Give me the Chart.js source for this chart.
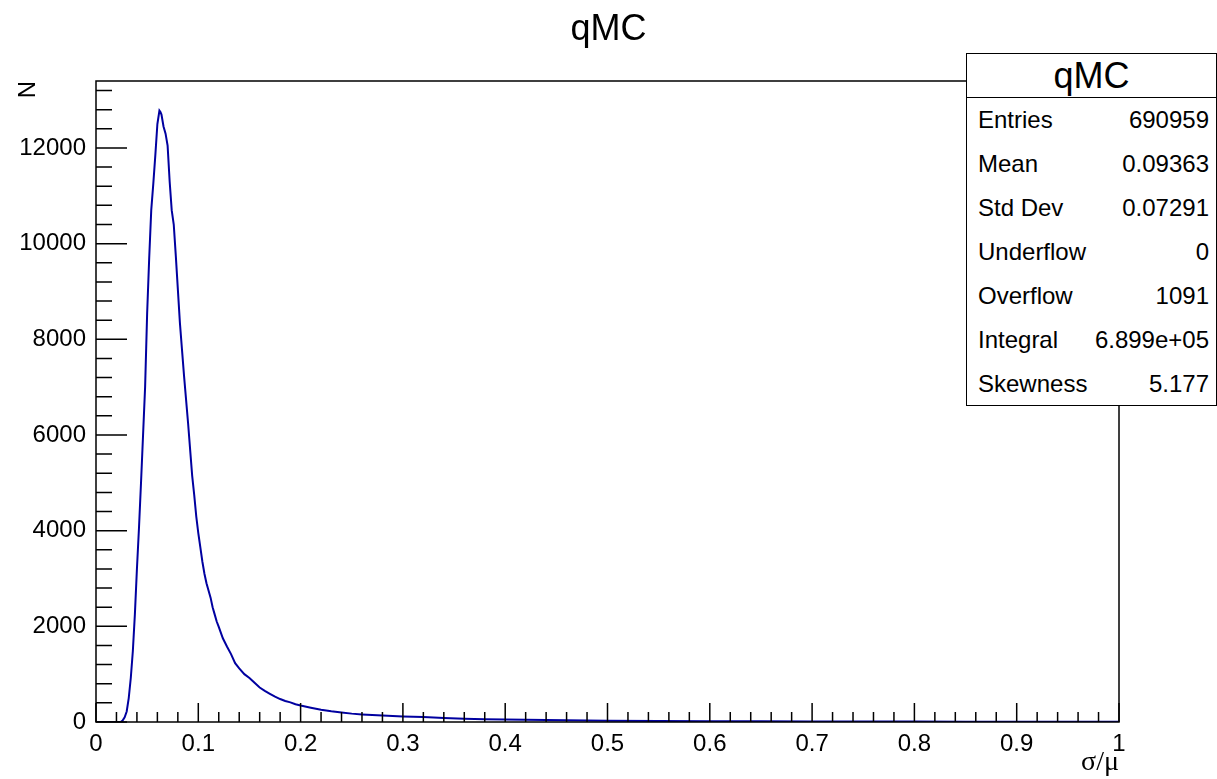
<!DOCTYPE html>
<html>
<head>
<meta charset="utf-8">
<title>qMC</title>
<script src="https://cdn.jsdelivr.net/npm/chart.js@4.4.1/dist/chart.umd.min.js"></script>
<style>
  body { margin: 0; background: #fff; }
  #wrap { position: relative; width: 1217px; height: 779px; }
  #stats {
    position: absolute; left: 966px; top: 53px; width: 251px; height: 353px;
    box-sizing: border-box; border: 1.5px solid #000; background: #fff;
    font-family: "Liberation Sans", Arial, sans-serif; color: #000;
  }
  #stats .head {
    height: 43px; line-height: 43px; text-align: center; font-size: 36px;
    border-bottom: 1.5px solid #000;
  }
  #stats .row {
    height: 44px; display: flex; justify-content: space-between; align-items: center;
    font-size: 24px; padding: 0 7px 0 11px;
  }
</style>
</head>
<body>
<div id="wrap">
  <canvas id="histo" width="1217" height="779"></canvas>
  <div id="stats"></div>
</div>
<script>
// bin centres (sigma/mu) and entries
const binX = [
  0.000, 0.020, 0.024, 0.026, 0.028, 0.030, 0.032, 0.034, 0.036, 0.038,
  0.040, 0.042, 0.044, 0.046, 0.048, 0.050, 0.052, 0.054, 0.056, 0.058,
  0.060, 0.062, 0.063, 0.064, 0.066, 0.068, 0.070, 0.072, 0.074, 0.076,
  0.078, 0.080, 0.082, 0.084, 0.086, 0.088, 0.090, 0.092, 0.094, 0.096,
  0.098, 0.100, 0.102, 0.104, 0.106, 0.108, 0.110, 0.112, 0.114, 0.116,
  0.118, 0.120, 0.124, 0.128, 0.132, 0.136, 0.140, 0.145, 0.150, 0.155,
  0.160, 0.165, 0.170, 0.175, 0.180, 0.185, 0.190, 0.195, 0.200, 0.210,
  0.220, 0.230, 0.240, 0.250, 0.260, 0.270, 0.280, 0.290, 0.300, 0.320,
  0.340, 0.360, 0.380, 0.400, 0.420, 0.440, 0.460, 0.480, 0.500, 0.550,
  0.600, 0.650, 0.700, 0.750, 0.800, 0.850, 0.900, 0.950, 1.000
];
const entries = [
  0, 0, 0, 30, 100, 220, 500, 920, 1480, 2250,
  3200, 4050, 5000, 6000, 7000, 8550, 9700, 10700, 11250, 11850,
  12500, 12780, 12750, 12700, 12450, 12300, 12050, 11300, 10700, 10400,
  9750, 9050, 8350, 7800, 7250, 6750, 6250, 5700, 5150, 4750,
  4300, 3950, 3650, 3350, 3100, 2900, 2750, 2600, 2400, 2250,
  2100, 1990, 1750, 1580, 1420, 1230, 1120, 1000, 920, 820,
  720, 650, 590, 530, 480, 440, 410, 370, 345, 300,
  255, 225, 200, 175, 158, 145, 135, 125, 115, 103,
  82, 68, 60, 50, 45, 40, 36, 32, 28, 22,
  18, 14, 11, 9, 8, 7, 6, 5, 4
];

const xTicks = [0, 0.1, 0.2, 0.3, 0.4, 0.5, 0.6, 0.7, 0.8, 0.9, 1];
const yTicks = [0, 2000, 4000, 6000, 8000, 10000, 12000];

const statNames = ["Entries", "Mean", "Std Dev", "Underflow", "Overflow", "Integral", "Skewness"];
const statValues = ["690959", "0.09363", "0.07291", "0", "1091", "6.899e+05", "5.177"];

const yMax = 13400;
const fontSans = "'Liberation Sans', Arial, sans-serif";

// stats box
const stats = document.getElementById("stats");
let html = '<div class="head">qMC</div>';
statNames.forEach((n, i) => {
  html += `<div class="row"><span>${n}</span><span>${statValues[i]}</span></div>`;
});
stats.innerHTML = html;

// ROOT style frame with ticks drawn inside
const rootFrame = {
  id: "rootFrame",
  afterDraw(chart) {
    const { ctx, chartArea: a, scales: { x, y } } = chart;
    ctx.save();
    ctx.strokeStyle = "#000";
    ctx.lineWidth = 1.5;
    ctx.strokeRect(a.left, a.top, a.right - a.left, a.bottom - a.top);
    ctx.beginPath();
    for (let v = 0; v <= yMax; v += 400) {
      const p = y.getPixelForValue(v);
      const len = v % 2000 === 0 ? 31 : 16;
      ctx.moveTo(a.left, p);
      ctx.lineTo(a.left + len, p);
    }
    for (let i = 0; i <= 50; i++) {
      const p = x.getPixelForValue(i * 0.02);
      const len = i % 5 === 0 ? 19 : 10;
      ctx.moveTo(p, a.bottom);
      ctx.lineTo(p, a.bottom - len);
    }
    ctx.stroke();
    ctx.restore();
  }
};

const ctx = document.getElementById("histo").getContext("2d");

new Chart(ctx, {
  type: "line",
  data: {
    datasets: [{
      label: "qMC",
      data: binX.map((v, i) => ({ x: v, y: entries[i] })),
      borderColor: "#0000a0",
      borderWidth: 2,
      pointRadius: 0,
      tension: 0,
      fill: false
    }]
  },
  options: {
    responsive: false,
    animation: false,
    layout: { padding: 0 },
    plugins: {
      legend: { display: false },
      tooltip: { enabled: false },
      title: {
        display: true,
        text: "qMC",
        color: "#000",
        font: { family: fontSans, size: 36, weight: "normal" },
        padding: { top: 8, bottom: 29.8 }
      }
    },
    scales: {
      x: {
        type: "linear",
        min: 0,
        max: 1,
        afterFit(scale) { scale.height = 57; },
        afterBuildTicks(scale) { scale.ticks = xTicks.map(v => ({ value: v })); },
        grid: { display: false, drawTicks: false },
        border: { display: false },
        ticks: {
          autoSkip: false,
          maxRotation: 0,
          padding: 8,
          color: "#000",
          font: { family: fontSans, size: 24 },
          callback: v => String(v)
        },
        title: {
          display: true,
          text: "σ/μ",
          align: "end",
          color: "#000",
          font: { family: "'Liberation Serif', 'Times New Roman', serif", size: 28 },
          padding: { top: 0, bottom: 0 }
        }
      },
      y: {
        min: 0,
        max: yMax,
        afterFit(scale) { scale.width = 96; },
        afterBuildTicks(scale) { scale.ticks = yTicks.map(v => ({ value: v })); },
        grid: { display: false, drawTicks: false },
        border: { display: false },
        ticks: {
          padding: 10,
          color: "#000",
          font: { family: fontSans, size: 24 },
          callback: v => String(v)
        },
        title: {
          display: true,
          text: "N",
          align: "end",
          color: "#000",
          font: { family: fontSans, size: 24 },
          padding: { top: 14, bottom: 0 }
        }
      },
      // empty right margin so the frame ends at 1119 px while the title stays centred on the page
      yRight: {
        position: "right",
        min: 0,
        max: 1,
        afterFit(scale) { scale.width = 98; },
        grid: { display: false, drawTicks: false },
        border: { display: false },
        ticks: { display: false }
      }
    }
  },
  plugins: [rootFrame]
});
</script>
</body>
</html>
